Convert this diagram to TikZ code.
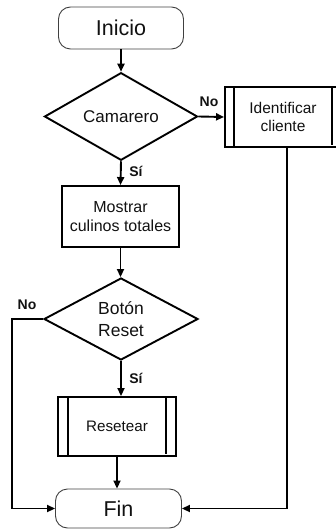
\documentclass[tikz,border=0pt]{standalone}
\usepackage{fontspec}
\setmainfont{Liberation Sans}
\usetikzlibrary{shapes.geometric,arrows.meta}
\definecolor{ink}{HTML}{111111}
\begin{document}
\begin{tikzpicture}[x=1pt,y=-1pt,
  every node/.style={text=ink, inner sep=0pt},
  term/.style={draw=black!75, line width=0.9pt, rounded corners=12pt, align=center, font=\fontsize{21.5}{24}\selectfont},
  proc/.style={draw=black, line width=1.9pt, align=center},
  dec/.style={draw=black, line width=1.9pt, diamond, align=center},
  lab/.style={font=\fontsize{14}{16}\selectfont\bfseries},
  arr/.style={line width=1.9pt, -{Triangle[length=8pt,width=7pt]}},
  sub/.style={line width=1.9pt}]
\useasboundingbox (0,0) rectangle (336,529);
\clip (0,0) rectangle (336,529);

\node[term, minimum width=125pt, minimum height=42pt] (ini) at (121,28) {Inicio};
\node[dec, minimum width=153pt, minimum height=82pt, font=\fontsize{17}{20}\selectfont] (cam) at (121,116.5) {Camarero};
\node[proc, minimum width=116pt, minimum height=60pt, font=\fontsize{15.5}{18}\selectfont] (idc) at (283,117) {Identificar\\cliente};
\node[proc, minimum width=117pt, minimum height=61pt, font=\fontsize{16}{18.3}\selectfont] (mos) at (120.5,216.5) {Mostrar\\culinos totales};
\node[dec, minimum width=154pt, minimum height=82pt, font=\fontsize{17.5}{21.7}\selectfont] (bot) at (121,319) {Botón\\Reset};
\node[proc, minimum width=118pt, minimum height=59pt, font=\fontsize{15.2}{18}\selectfont] (res) at (117,426.5) {Resetear};
\node[term, minimum width=126pt, minimum height=39pt] (fin) at (118.5,508.5) {Fin};

% predefined process side bars
\draw[sub] ([xshift=10pt]idc.north west) -- ([xshift=10pt]idc.south west);
\draw[sub] ([xshift=-10pt]idc.north east) -- ([xshift=-10pt,yshift=3pt]idc.south east);
\draw[sub] ([xshift=11pt]res.north west) -- ([xshift=11pt]res.south west);
\draw[sub] ([xshift=-11pt]res.north east) -- ([xshift=-11pt,yshift=3pt]res.south east);

% connectors
\draw[arr] (ini.south) -- (cam.north);
\draw[arr] (cam.east) -- (idc.west);
\node[lab] (no1) at (209,102) {No};
\draw[arr] (cam.south) -- (mos.north);
\node[lab] (si1) at (136,171) {Sí};
\draw[arr] (mos.south) -- (mos.south |- bot.north);
\coordinate (bl) at (12,319);
\coordinate (bb) at (12,508.5);
\draw[arr] (bot.west) -- (bl) -- (bb) -- (fin.west);
\node[lab] (no2) at (27,305) {No};
\draw[arr] (bot.south) -- (bot.south |- res.north);
\node[lab] (si2) at (136,378.5) {Sí};
\draw[arr] (res.south) -- (res.south |- fin.north);
\coordinate (ib) at (287,508.5);
\draw[arr] ([xshift=4pt]idc.south) -- (ib) -- (fin.east);
\end{tikzpicture}
\end{document}
